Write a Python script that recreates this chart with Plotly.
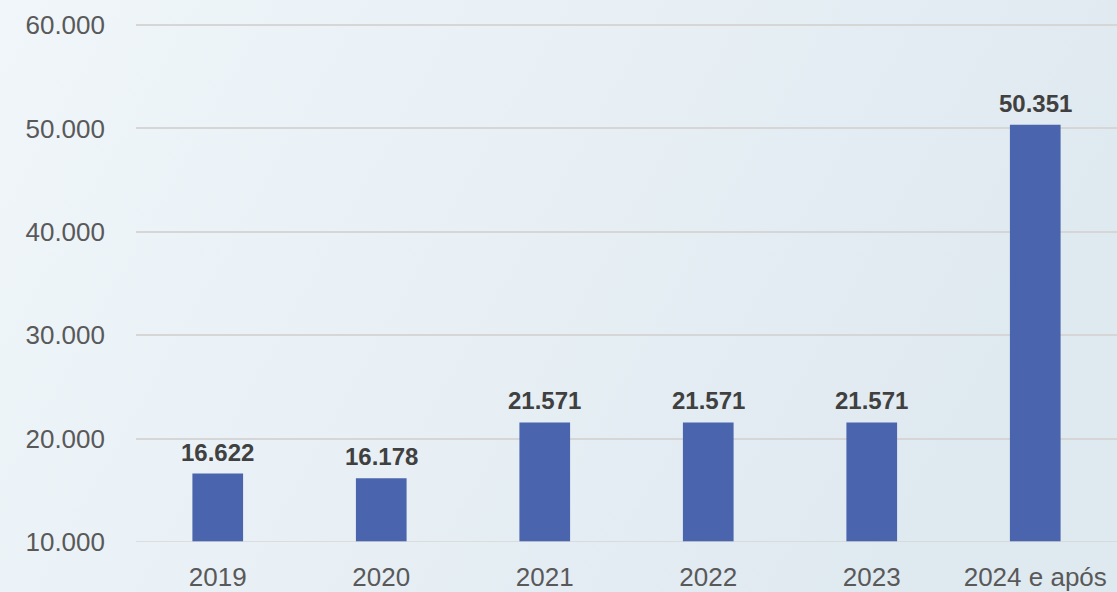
import base64
import plotly.graph_objects as go

categories = ["2019", "2020", "2021", "2022", "2023", "2024 e após"]
values = [16622, 16178, 21571, 21571, 21571, 50351]
y_ticks = [10000, 20000, 30000, 40000, 50000, 60000]

fig = go.Figure(
    go.Bar(
        x=categories,
        y=values,
        marker=dict(color="#4a65ad", line=dict(width=0)),
        hoverinfo="skip",
    )
)

# On a category axis, annotation x is the category index
for i, v in enumerate(values):
    fig.add_annotation(
        x=i, y=v, xref="x", yref="y",
        text=f"{v:,d}".replace(",", "."),
        showarrow=False,
        yanchor="bottom",
        yshift=6,
        font=dict(family="Liberation Sans, Arial, sans-serif", size=24, color="#404040", weight="bold"),
    )

# bottom gridline (at range edge)
fig.add_shape(
    type="line", xref="paper", yref="y", x0=0, x1=1, y0=y_ticks[0], y1=y_ticks[0],
    line=dict(color="#d6d6d6", width=1.5), layer="above",
)

# soft background gradient
svg = (
    '<svg xmlns="http://www.w3.org/2000/svg" width="1117" height="592">'
    '<defs><linearGradient id="g" x1="0" y1="0" x2="1" y2="0.3">'
    '<stop offset="0" stop-color="#f0f6fa"/>'
    '<stop offset="0.5" stop-color="#e8f0f5"/>'
    '<stop offset="1" stop-color="#dfe9f0"/>'
    '</linearGradient></defs>'
    '<rect width="1117" height="592" fill="url(#g)"/></svg>'
)
bg_src = "data:image/svg+xml;base64," + base64.b64encode(svg.encode()).decode()

fig.update_layout(
    width=1117,
    height=592,
    margin=dict(l=136, r=0, t=22, b=50),
    paper_bgcolor="#e9f1f6",
    plot_bgcolor="rgba(0,0,0,0)",
    separators=",.",
    bargap=0.69,
    showlegend=False,
    font=dict(family="Liberation Sans, Arial, sans-serif", size=26, color="#595959"),
    images=[dict(
        source=bg_src, xref="paper", yref="paper", x=-136 / 981, y=1 + 22 / 520,
        sizex=1117 / 981, sizey=592 / 520, xanchor="left", yanchor="top",
        sizing="stretch", layer="below",
    )],
)

fig.update_yaxes(
    range=[10000, 60300],
    tickvals=y_ticks,
    tickformat=",d",
    showgrid=True,
    gridcolor="#d6d6d6",
    gridwidth=1.5,
    zeroline=False,
    showline=False,
    ticks="",
    ticklabelstandoff=30,
    tickfont=dict(size=26, color="#595959"),
)

fig.update_xaxes(
    type="category",
    categoryorder="array",
    categoryarray=categories,
    range=[-0.5, len(categories) - 0.5],
    showgrid=False,
    showline=False,
    ticks="",
    tickfont=dict(size=26, color="#595959"),
    ticklabelstandoff=17,
)

fig.write_html(
    "out.html",
    config={"displayModeBar": False},
    post_script="document.body.style.margin='0';document.body.style.background='#e9f1f6';",
)
